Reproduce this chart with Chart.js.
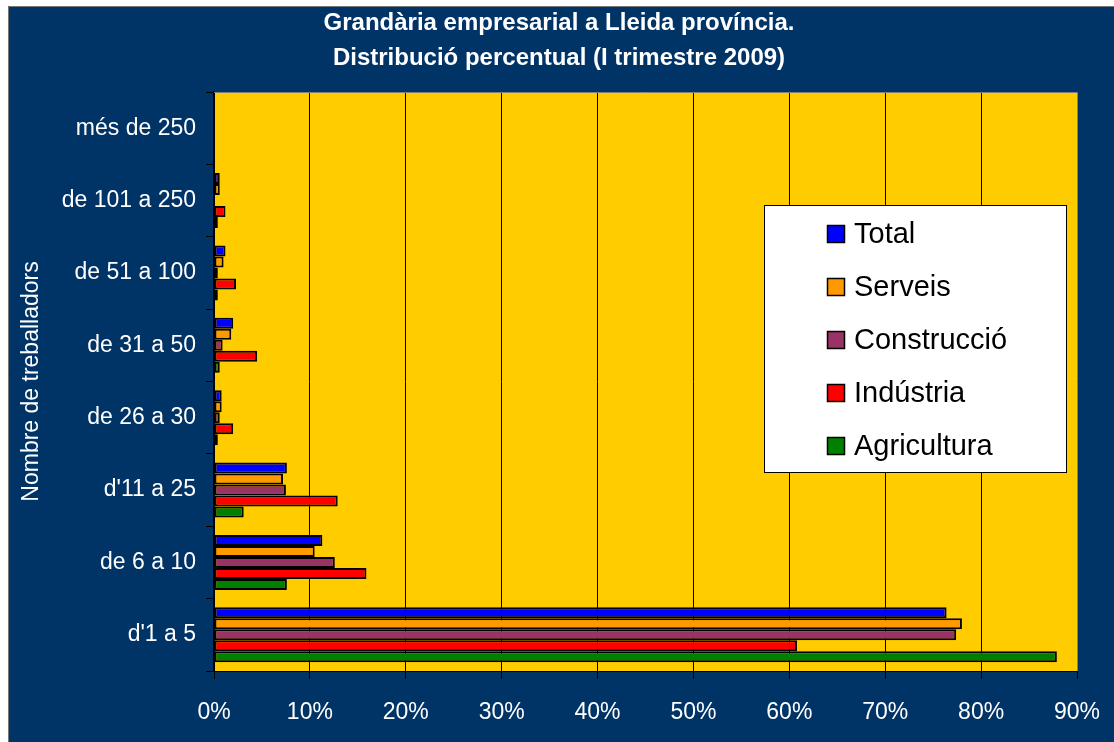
<!DOCTYPE html>
<html>
<head>
<meta charset="utf-8">
<script src="https://cdn.jsdelivr.net/npm/chart.js@4.4.1/dist/chart.umd.min.js"></script>
<style>
html,body{margin:0;padding:0;background:#fff;}
#wrap{width:1114px;height:742px;position:relative;}
</style>
</head>
<body>
<div id="wrap"><canvas id="c" width="1114" height="742"></canvas></div>
<script>
const titleLines = ['Grandària empresarial a Lleida província.', 'Distribució percentual (I trimestre 2009)'];
const yAxisTitle = 'Nombre de treballadors';
const categories = ['més de 250', 'de 101 a 250', 'de 51 a 100', 'de 31 a 50', 'de 26 a 30', "d'11 a 25", 'de 6 a 10', "d'1 a 5"];
const seriesNames = ['Total', 'Serveis', 'Construcció', 'Indústria', 'Agricultura'];
const seriesColors = ['#0000FF', '#FF9900', '#993366', '#FF0000', '#008000'];
const total       = [0, 0.6, 1.2, 2.0, 0.8, 7.6, 11.3, 76.4];
const serveis     = [0, 0.6, 1.0, 1.8, 0.8, 7.2, 10.5, 78.0];
const construccio = [0, 0, 0.4, 0.9, 0.6, 7.5, 12.6, 77.4];
const industria   = [0, 1.2, 2.3, 4.5, 2.0, 12.9, 15.9, 60.8];
const agricultura = [0, 0.4, 0.4, 0.6, 0.4, 3.1, 7.6, 87.9];
const seriesValues = [total, serveis, construccio, industria, agricultura];
const xTicks = [0, 10, 20, 30, 40, 50, 60, 70, 80, 90];

const FONT = 'Arial, "Liberation Sans", sans-serif';

const frame = {
  id: 'frame',
  beforeDraw(chart) {
    const ctx = chart.ctx;
    ctx.save();
    ctx.fillStyle = '#ffffff';
    ctx.fillRect(0, 0, chart.width, chart.height);
    ctx.fillStyle = '#003366';
    ctx.fillRect(8, 6, chart.width - 8, chart.height - 6);
    ctx.strokeStyle = '#777777';
    ctx.lineWidth = 1;
    ctx.beginPath();
    ctx.moveTo(8.5, chart.height);
    ctx.lineTo(8.5, 6.5);
    ctx.lineTo(chart.width, 6.5);
    ctx.stroke();
    const a = chart.chartArea;
    ctx.fillStyle = '#FFCC00';
    ctx.fillRect(a.left, a.top, a.right - a.left, a.bottom - a.top);
    // title
    ctx.fillStyle = '#ffffff';
    ctx.font = 'bold 24px ' + FONT;
    ctx.textAlign = 'center';
    ctx.textBaseline = 'middle';
    ctx.fillText(titleLines[0], 559, 23);
    ctx.fillText(titleLines[1], 559, 58);
    ctx.restore();
  },
  afterDatasetsDraw(chart) {
    const ctx = chart.ctx;
    const a = chart.chartArea;
    ctx.save();
    ctx.strokeStyle = '#808080';
    ctx.lineWidth = 1;
    ctx.beginPath();
    ctx.moveTo(a.left, a.top + 0.5);
    ctx.lineTo(a.right + 0.5, a.top + 0.5);
    ctx.lineTo(a.right + 0.5, a.bottom);
    ctx.stroke();
    // legend
    const lx = 764, ly = 205, lw = 302, lh = 267;
    ctx.fillStyle = '#ffffff';
    ctx.fillRect(lx, ly, lw, lh);
    ctx.strokeStyle = '#000000';
    ctx.strokeRect(lx + 0.5, ly + 0.5, lw, lh);
    ctx.font = '29px ' + FONT;
    ctx.textAlign = 'left';
    ctx.textBaseline = 'middle';
    chart.data.datasets.forEach((ds, i) => {
      const cy = 234 + i * 53;
      ctx.fillStyle = ds.backgroundColor;
      ctx.fillRect(827, cy - 9, 17, 17);
      ctx.strokeStyle = '#000';
      ctx.lineWidth = 1.5;
      ctx.strokeRect(827.5, cy - 8.5, 17, 17);
      ctx.fillStyle = '#000';
      ctx.fillText(ds.label, 854, cy + 1);
    });
    ctx.restore();
  }
};

new Chart(document.getElementById('c'), {
  type: 'bar',
  data: {
    labels: categories,
    datasets: seriesNames.map((n, i) => ({
      label: n,
      data: seriesValues[i],
      backgroundColor: seriesColors[i],
      borderColor: '#000000',
      borderWidth: 2,
      borderSkipped: false,
      categoryPercentage: 0.76,
      barPercentage: 1.0
    }))
  },
  options: {
    indexAxis: 'y',
    responsive: false,
    animation: false,
    layout: { padding: { left: 0, right: 37, top: 92, bottom: 0 } },
    plugins: { legend: { display: false }, tooltip: { enabled: false }, title: { display: false } },
    scales: {
      x: {
        min: 0, max: 90,
        afterFit(s) { s.height = 71; s.paddingLeft = 0; s.paddingRight = 0; },
        afterBuildTicks(s) { s.ticks = xTicks.map(v => ({ value: v })); },
        ticks: { color: '#ffffff', font: { size: 23, family: FONT }, padding: 20, callback: v => v + '%' },
        grid: { color: '#000000', lineWidth: 1, tickLength: 8, drawTicks: true },
        border: { display: true, color: '#000000' }
      },
      y: {
        afterFit(s) { s.width = 214; },
        ticks: { color: '#ffffff', font: { size: 23, family: FONT }, padding: 10 },
        grid: { drawOnChartArea: false, color: '#000000', tickLength: 8, offset: true },
        border: { display: true, color: '#000000', width: 1.5 },
        title: { display: true, text: yAxisTitle, color: '#ffffff', font: { size: 23, family: FONT }, padding: { top: 18, bottom: 0 } }
      }
    }
  },
  plugins: [frame]
});
</script>
</body>
</html>
